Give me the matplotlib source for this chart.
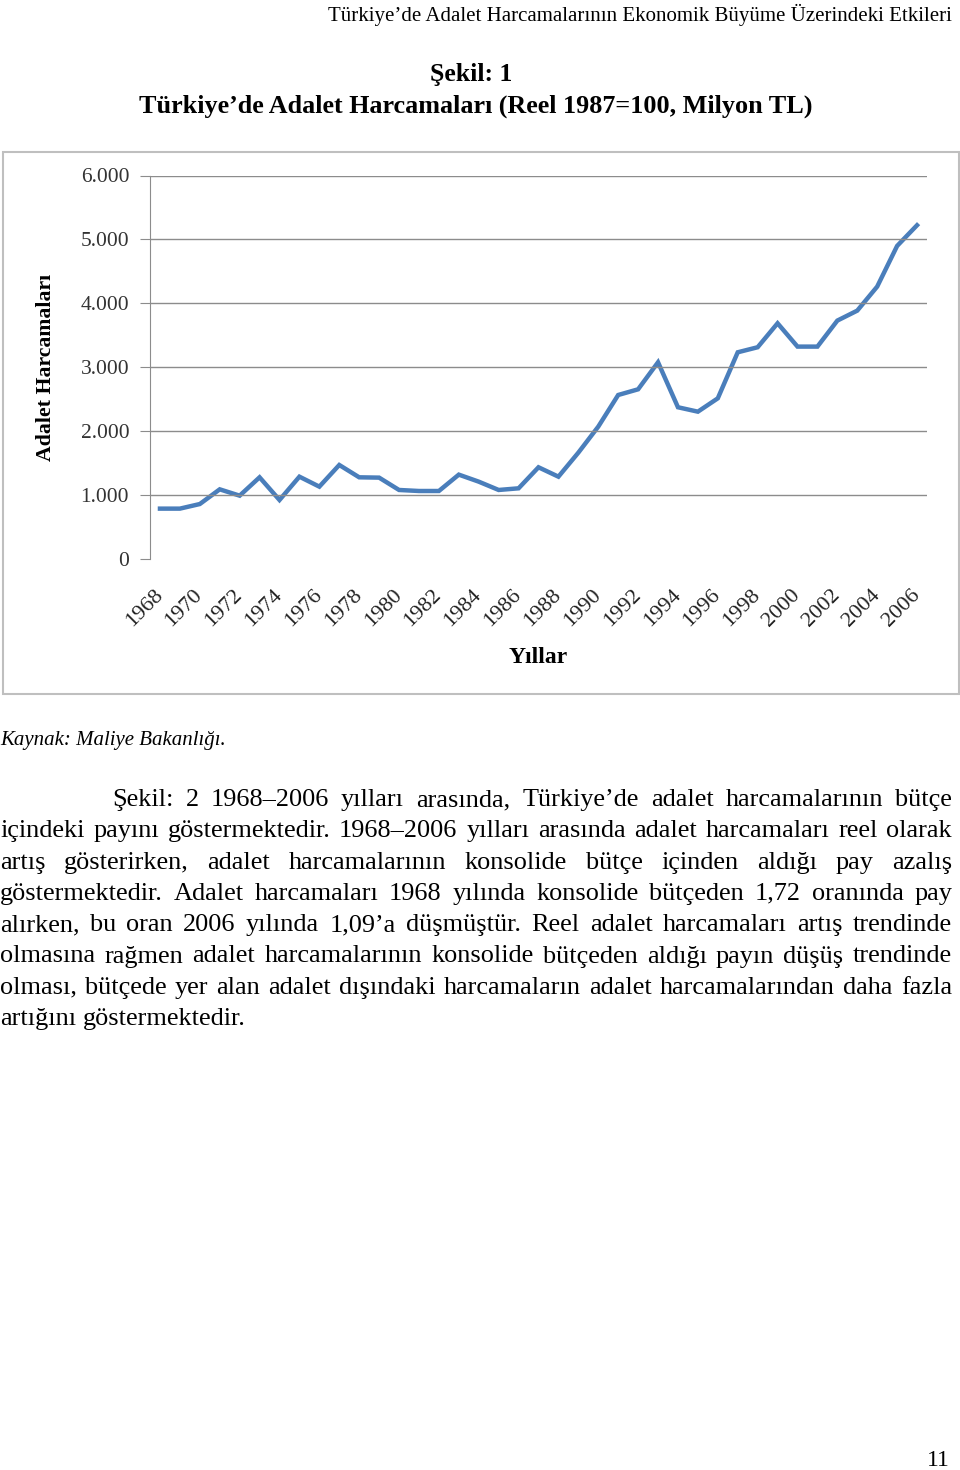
import numpy as np
import matplotlib
matplotlib.use("Agg")
import matplotlib.pyplot as plt
from matplotlib.patches import Rectangle

plt.rcParams['font.family'] = ['Liberation Serif', 'DejaVu Serif']

years = list(range(1968, 2007))
spending = [788, 788, 860, 1090, 991, 1278, 923, 1288, 1132, 1471,
            1278, 1273, 1080, 1064, 1064, 1320, 1210, 1080, 1106, 1435,
            1288, 1664, 2071, 2566, 2655, 3078, 2374, 2305, 2514, 3234,
            3313, 3688, 3323, 3323, 3730, 3886, 4262, 4898, 5222]
yticks = [0, 1000, 2000, 3000, 4000, 5000, 6000]
ytick_labels = ['0', '1.000', '2.000', '3.000', '4.000', '5.000', '6.000']
xtick_years = years[::2]

header = "Türkiye’de Adalet Harcamalarının Ekonomik Büyüme Üzerindeki Etkileri"
fig_no = "Şekil: 1"
fig_title = "Türkiye’de Adalet Harcamaları (Reel 1987=100, Milyon TL)"
source = "Kaynak: Maliye Bakanlığı."
paragraph = [
    "Şekil: 2 1968–2006 yılları arasında, Türkiye’de adalet harcamalarının bütçe",
    "içindeki payını göstermektedir. 1968–2006 yılları arasında adalet harcamaları reel olarak",
    "artış gösterirken, adalet harcamalarının konsolide bütçe içinden aldığı pay azalış",
    "göstermektedir. Adalet harcamaları 1968 yılında konsolide bütçeden 1,72 oranında pay",
    "alırken, bu oran 2006 yılında 1,09’a düşmüştür. Reel adalet harcamaları artış trendinde",
    "olmasına rağmen adalet harcamalarının konsolide bütçeden aldığı payın düşüş trendinde",
    "olması, bütçede yer alan adalet dışındaki harcamaların adalet harcamalarından daha fazla",
    "artığını göstermektedir.",
]

W, H = 960, 1470
fig = plt.figure(figsize=(W / 100, H / 100), dpi=100)

def fx(px):
    return px / W

def fy(py):
    return 1 - py / H

# page texts
fig.text(fx(952), fy(15), header, ha='right', va='center', fontsize=15)
fig.text(fx(471), fy(75), fig_no, ha='center', va='center', fontsize=18.5, fontweight='bold')
fig.text(fx(476), fy(106), fig_title, ha='center', va='center', fontsize=18.8, fontweight='bold')

# chart frame
fig.patches.append(Rectangle((fx(3), fy(694)), fx(956), (694 - 152) / H,
                             transform=fig.transFigure, fill=False,
                             edgecolor='#bfbfbf', linewidth=1.5))

ax = fig.add_axes([fx(150), fy(559), fx(777), (559 - 175.5) / H])
ax.plot(years, spending, color='#4a7ebb', linewidth=3.2, solid_joinstyle='miter')
ax.set_xlim(1967.5, 2006.5)
ax.set_ylim(0, 6000)
ax.set_yticks(yticks)
ax.set_yticklabels(ytick_labels, fontsize=15.5, color='#333333')
ax.set_xticks(xtick_years)
ax.set_xticklabels([str(y) for y in xtick_years], rotation=45, ha='right', va='center',
                   rotation_mode='anchor', fontsize=16, color='#222222')
ax.tick_params(axis='x', length=0, pad=24)
ax.tick_params(axis='y', length=7, color='#8c8c8c', pad=8)
for y in yticks[1:]:
    ax.axhline(y, color='#8c8c8c', linewidth=1)
for s in ['top', 'right', 'bottom']:
    ax.spines[s].set_visible(False)
ax.spines['left'].set_color('#8c8c8c')
ax.set_ylabel("Adalet Harcamaları", fontsize=15.7, fontweight='bold', labelpad=18)
ax.set_xlabel("Yıllar", fontsize=17, fontweight='bold', labelpad=12)

# source note
fig.text(fx(0), fy(745), source, ha='left', va='baseline', fontsize=15, fontstyle='italic')

# justified paragraph
renderer = fig.canvas.get_renderer()
fsize = 18.9
line_gap = 31.3
base0 = 806
for i, line in enumerate(paragraph):
    words = line.split(' ')
    left = 112 if i == 0 else 0
    right = 952
    base = base0 + i * line_gap
    arts = [fig.text(0, fy(base), w, ha='left', va='baseline', fontsize=fsize) for w in words]
    widths = [a.get_window_extent(renderer).width for a in arts]
    if i == len(paragraph) - 1:
        gap = fsize * 100 / 72 * 0.25
    else:
        gap = (right - left - sum(widths)) / (len(words) - 1)
    x = left
    for a, wd in zip(arts, widths):
        a.set_x(fx(x))
        x += wd + gap

fig.text(fx(950), fy(1461), "11", ha='right', va='center', fontsize=17)

fig.savefig("out.png", dpi=100)
